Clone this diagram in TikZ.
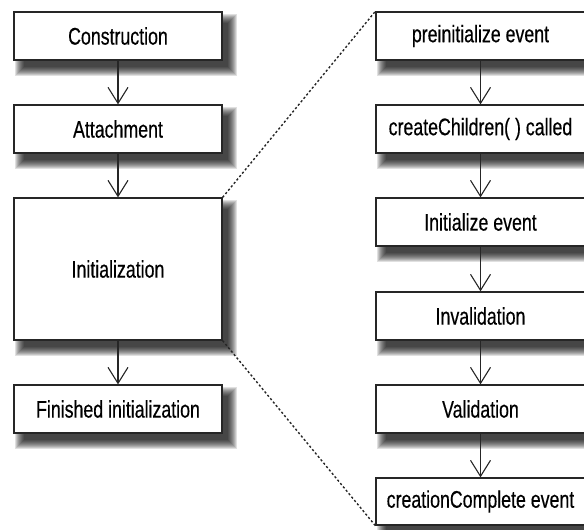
\documentclass[tikz,border=0pt]{standalone}
\usepackage{fontspec}
\setmainfont{Liberation Sans}[FakeStretch=0.74,FakeBold=0.4]
\usetikzlibrary{arrows.meta,backgrounds}
\begin{document}
\begin{tikzpicture}[x=1pt,y=-1pt,
  box/.style={draw=black!85,line width=1.3pt,fill=white,inner sep=0pt,
    font=\fontsize{24}{26}\selectfont},
  lbox/.style={box,minimum width=208pt,minimum height=48pt},
  rbox/.style={box,minimum width=209pt,minimum height=48pt},
  shadowlayer/.style={fill=black,opacity=0.12},
  flow/.style={draw=black!85,line width=1.1pt,-{Straight Barb[length=16pt,width=20pt,line width=1.1pt]}},
  zoomline/.style={draw=black!85,line width=1.4pt,dash pattern=on 2.2pt off 2.2pt}]
\useasboundingbox (0,0) rectangle (584,530);
% left column
\node[lbox] (con) at (118,36) {Construction};
\node[lbox] (att) at (118,129) {Attachment};
\node[lbox,minimum height=142pt] (ini) at (118,269) {Initialization};
\node[lbox] (fin) at (118,409) {Finished initialization};
% right column
\node[rbox] (pre) at (480.5,36) {preinitialize event};
\node[rbox] (cc) at (480.5,129) {createChildren( ) called};
\node[rbox] (ie) at (480.5,222) {Initialize event};
\node[rbox] (inv) at (480.5,316) {Invalidation};
\node[rbox] (val) at (480.5,409) {Validation};
\node[rbox,minimum height=47pt] (cre) at (480.5,501.5) {creationComplete event};
% shadows
\begin{scope}[on background layer]
\foreach \n in {con,att,ini,fin,pre,cc,ie,inv,val,cre}{
  \foreach \k in {0,...,9}{
    \fill[shadowlayer] ([shift={(2+\k,3+\k)}]\n.north west) rectangle ([shift={(14-\k,15-\k)}]\n.south east);
  }
}
\end{scope}
% arrows
\draw[flow] (con) -- (att);
\draw[flow] (att) -- (ini);
\draw[flow] (ini) -- (fin);
\draw[flow] (pre) -- (cc);
\draw[flow] (cc) -- (ie);
\draw[flow] (ie) -- (inv);
\draw[flow] (inv) -- (val);
\draw[flow] (val) -- (cre);
% zoom lines
\draw[zoomline] (ini.north east) -- (pre.north west);
\draw[zoomline] (ini.south east) -- (cre.south west);
\end{tikzpicture}
\end{document}
